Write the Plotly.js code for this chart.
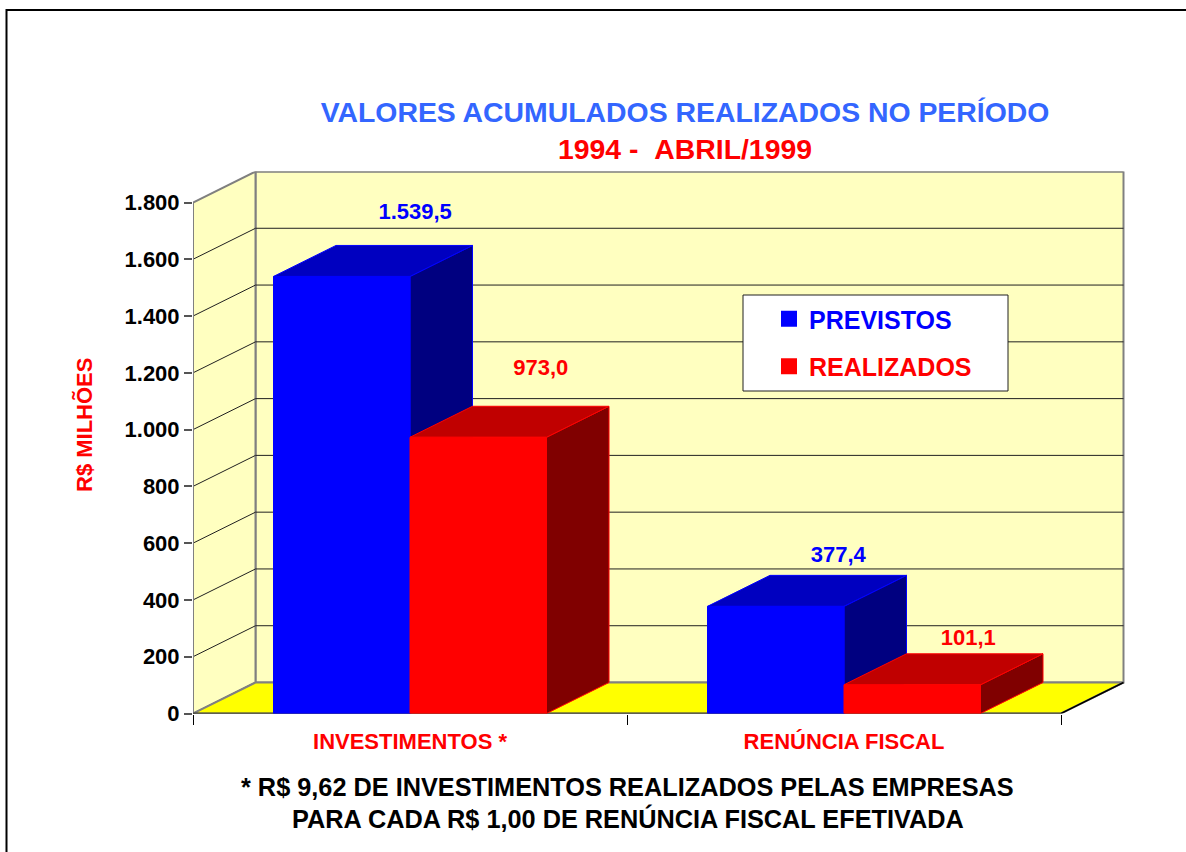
<!DOCTYPE html>
<html>
<head>
<meta charset="utf-8">
<script src="https://cdn.plot.ly/plotly-3.0.1.min.js"></script>
<style>html,body{margin:0;padding:0;background:#fff}</style>
</head>
<body>
<div id="chart" style="width:1186px;height:852px"></div>
<script>
const categories = ["INVESTIMENTOS *", "RENÚNCIA FISCAL"];
const previstos = [1539.5, 377.4];
const realizados = [973.0, 101.1];
const yTicks = [0, 200, 400, 600, 800, 1000, 1200, 1400, 1600, 1800];
const yTickLabels = ["0", "200", "400", "600", "800", "1.000", "1.200", "1.400", "1.600", "1.800"];

const W = 1186, H = 852;
const FONT = '"Liberation Sans", Arial, sans-serif';
const pxL = 193, pxR = 1125, pxB = 713.5, pxT = 171.5;
const pxPerCat = 434, pxPerVal = 511 / 1800;
const depthX = 62.5 / pxPerCat, depthY = 31 / pxPerVal;
const barW = 136.5 / pxPerCat;
const yMax = yTicks[yTicks.length - 1];
const nCat = categories.length;

const labelShift = {
  previstos: { dx: [0.025, 0], dy: [222, 175] },
  realizados: { dx: [0, -0.015], dy: [238, 159] }
};

function poly(xs, ys, fill, line, width) {
  return { type: "scatter", mode: "lines", x: xs.concat(xs[0]), y: ys.concat(ys[0]), fill: "toself",
    fillcolor: fill, line: { color: line, width: width === undefined ? 1 : width },
    hoverinfo: "skip", showlegend: false, cliponaxis: false };
}
function path(xs, ys, color, width) {
  return { type: "scatter", mode: "lines", x: xs, y: ys, line: { color: color, width: width },
    hoverinfo: "skip", showlegend: false, cliponaxis: false };
}
function box(x0, x1, v, c) {
  return [
    poly([x1, x1 + depthX, x1 + depthX, x1], [0, depthY, v + depthY, v], c.side, c.edge),
    poly([x0, x1, x1 + depthX, x0 + depthX], [v, v, v + depthY, v + depthY], c.top, c.edge),
    poly([x0, x1, x1, x0], [0, 0, v, v], c.front, c.front)
  ];
}

const traces = [];
// walls and floor
traces.push(poly([depthX, nCat + depthX, nCat + depthX, depthX], [depthY, depthY, yMax + depthY, yMax + depthY], "#FFFFC0", "#808080", 2));
traces.push(poly([0, depthX, depthX, 0], [0, depthY, yMax + depthY, yMax], "#FFFFC0", "#808080", 2));
traces.push(poly([0, nCat, nCat + depthX, depthX], [0, 0, depthY, depthY], "#FFFF00", "#808080", 2));
// gridlines on the side wall and the back wall
const gx = [], gy = [];
yTicks.slice(1, -1).forEach(v => { gx.push(0, depthX, nCat + depthX, null); gy.push(v, v + depthY, v + depthY, null); });
traces.push(path(gx, gy, "#202020", 1));
traces.push(path([depthX, depthX + nCat], [yMax + depthY, yMax + depthY], "#808080", 2));
// axis lines
traces.push(path([0, 0], [0, yMax], "#808080", 2));
traces.push(path([0, nCat, nCat + depthX], [0, 0, depthY], "#000000", 1.5));

const blue = { front: "#0000FF", top: "#0000C0", side: "#000080", edge: "#0000FF" };
const red = { front: "#FF0000", top: "#C00000", side: "#800000", edge: "#FF0000" };
categories.forEach((c, i) => {
  const mid = i + 0.5;
  box(mid - barW, mid, previstos[i], blue).forEach(t => traces.push(t));
  box(mid, mid + barW, realizados[i], red).forEach(t => traces.push(t));
});

function fmt(v) {
  const s = v.toFixed(1).replace(".", ",");
  return v >= 1000 ? s[0] + "." + s.slice(1) : s;
}
function labels(vals, side, shift, color) {
  return { type: "scatter", mode: "text", cliponaxis: false, hoverinfo: "skip", showlegend: false,
    x: vals.map((v, i) => i + 0.5 + side * barW / 2 + depthX + shift.dx[i]),
    y: vals.map((v, i) => v + shift.dy[i]),
    text: vals.map(fmt), textposition: "middle center",
    textfont: { family: FONT, size: 22, color: color, weight: 700 } };
}
traces.push(labels(previstos, -1, labelShift.previstos, "#0000FF"));
traces.push(labels(realizados, 1, labelShift.realizados, "#FF0000"));

// legend entries
[["PREVISTOS", "#0000FF"], ["REALIZADOS", "#FF0000"]].forEach(p => {
  traces.push({ type: "scatter", mode: "markers", x: [null], y: [null], name: p[0], legendgroup: p[0],
    marker: { symbol: "square", size: 16, color: p[1] }, hoverinfo: "skip", showlegend: true });
});

const footnote = ["* R$ 9,62 DE INVESTIMENTOS REALIZADOS PELAS EMPRESAS", "PARA CADA R$ 1,00 DE RENÚNCIA FISCAL EFETIVADA"];

const layout = {
  width: W, height: H, margin: { l: 0, r: 0, t: 0, b: 0 }, autosize: false,
  paper_bgcolor: "#FFFFFF", plot_bgcolor: "rgba(0,0,0,0)",
  font: { family: FONT, color: "#000000" },
  title: {
    text: '<span style="color:#3366FF">VALORES ACUMULADOS REALIZADOS NO PERÍODO</span><br><span style="color:#FF0000">1994 -\u00A0\u00A0ABRIL/1999</span>',
    font: { family: FONT, size: 28.4, weight: 700 },
    x: 685 / W, xanchor: "center", xref: "paper", y: 1 - 122 / H, yanchor: "top", yref: "container"
  },
  xaxis: {
    domain: [pxL / W, pxR / W], range: [0, (pxR - pxL) / pxPerCat], showgrid: false, zeroline: false, showline: false,
    tickmode: "array", tickvals: [0.5, 1.5], ticktext: categories, ticks: "", ticklabelstandoff: 12,
    tickfont: { family: FONT, size: 22, color: "#FF0000", weight: 700 },
    minor: { tickmode: "array", tickvals: [0, 1, 2], ticks: "outside", ticklen: 10, tickwidth: 1, tickcolor: "#000000", showgrid: false },
    fixedrange: true
  },
  yaxis: {
    domain: [(H - pxB) / H, (H - pxT) / H], range: [0, (pxB - pxT) / pxPerVal], showgrid: false, zeroline: false, showline: false,
    tickmode: "array", tickvals: yTicks, ticktext: yTickLabels, ticks: "outside", ticklen: 8, tickwidth: 1.5, tickcolor: "#555555",
    ticklabelstandoff: 0,
    tickfont: { family: FONT, size: 22, color: "#000000", weight: 700 },
    fixedrange: true
  },
  showlegend: true,
  legend: {
    x: 769 / W, y: 1 - 296 / H, xanchor: "left", yanchor: "top", bgcolor: "rgba(0,0,0,0)", borderwidth: 0,
    traceorder: "grouped", tracegroupgap: 12, itemsizing: "trace", itemclick: false, itemdoubleclick: false,
    font: { family: FONT, size: 25, weight: 700, color: "#000000" }
  },
  shapes: [
    { type: "rect", xref: "paper", yref: "paper", x0: 743 / W, x1: 1008 / W, y0: 1 - 391 / H, y1: 1 - 295 / H,
      fillcolor: "#FFFFFF", line: { color: "#202020", width: 1 }, layer: "above" },
    { type: "path", xref: "paper", yref: "paper",
      path: `M ${6.5 / W} 0 L ${6.5 / W} ${1 - 10 / H} L 1 ${1 - 10 / H}`, line: { color: "#000000", width: 2 }, layer: "above" }
  ],
  annotations: [
    { xref: "paper", yref: "paper", x: 627.5 / W, y: 1 - 787 / H, xanchor: "center", yanchor: "middle", showarrow: false,
      text: footnote[0], font: { family: FONT, size: 25.3, color: "#000000", weight: 700 } },
    { xref: "paper", yref: "paper", x: 628 / W, y: 1 - 818 / H, xanchor: "center", yanchor: "middle", showarrow: false,
      text: footnote[1], font: { family: FONT, size: 25.3, color: "#000000", weight: 700 } },
    { xref: "paper", yref: "paper", x: 84 / W, y: 1 - 425 / H, xanchor: "center", yanchor: "middle", showarrow: false, textangle: -90,
      text: "R$ MILHÕES", font: { family: FONT, size: 22, color: "#FF0000", weight: 700 } }
  ]
};

Plotly.newPlot("chart", traces, layout, { displayModeBar: false, responsive: false }).then(() => {
  const gd = document.getElementById("chart");
  gd.querySelectorAll(".legendtext").forEach((t, i) => { t.style.fill = ["#0000FF", "#FF0000"][i]; });
});
</script>
</body>
</html>
